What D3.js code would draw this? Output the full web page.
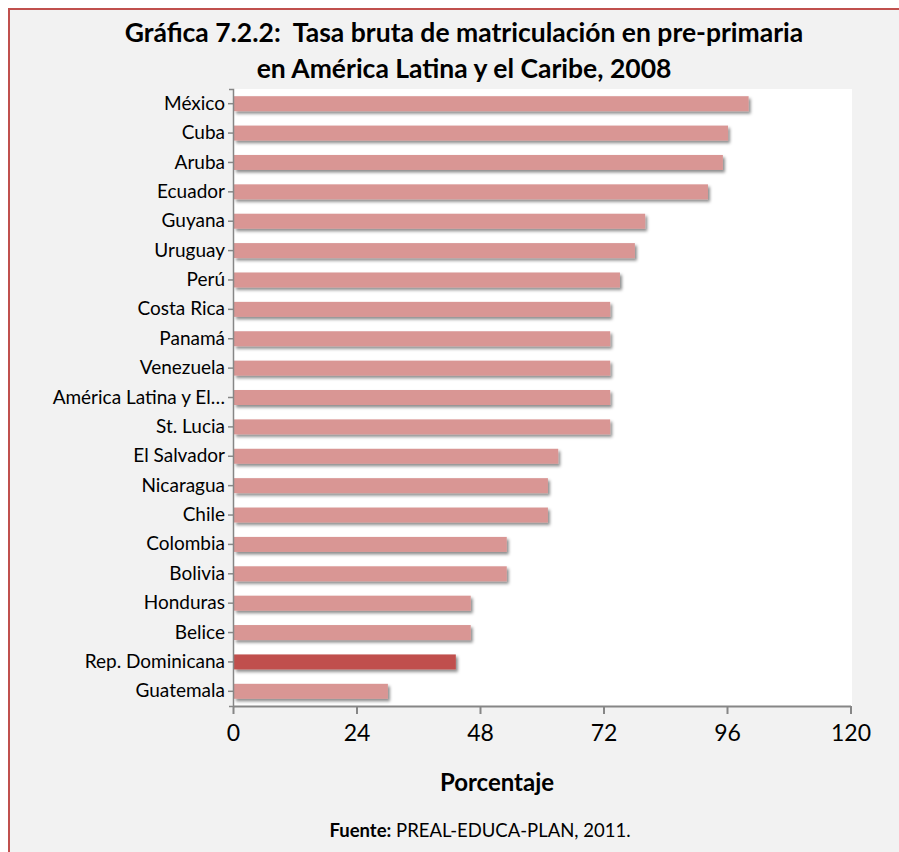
<!DOCTYPE html>
<html>
<head>
<meta charset="utf-8">
<script src="https://cdn.jsdelivr.net/npm/d3@7"></script>
<style>
  body { margin: 0; background: #fff; }
  text { font-family: Lato, "Open Sans", sans-serif; fill: #000; }
</style>
</head>
<body>
<div id="chart"></div>
<script>
// data
const paises = ["México", "Cuba", "Aruba", "Ecuador", "Guyana", "Uruguay", "Perú", "Costa Rica",
  "Panamá", "Venezuela", "América Latina y El…", "St. Lucia", "El Salvador", "Nicaragua", "Chile",
  "Colombia", "Bolivia", "Honduras", "Belice", "Rep. Dominicana", "Guatemala"];
const tasas = [100.2, 96.2, 95.2, 92.3, 80.1, 78.1, 75.2, 73.3, 73.3, 73.3, 73.3, 73.3,
  63.2, 61.2, 61.2, 53.2, 53.2, 46.2, 46.2, 43.3, 30.1];
const resaltado = "Rep. Dominicana";
const xTicks = [0, 24, 48, 72, 96, 120];

const W = 899, H = 852;
const svg = d3.select("#chart").append("svg")
    .attr("width", W)
    .attr("height", H);

// outer frame
svg.append("rect")
    .attr("x", 9).attr("y", 9)
    .attr("width", W + 20).attr("height", H + 20)
    .attr("fill", "#F2F2F2")
    .attr("stroke", "#C0504D")
    .attr("stroke-width", 2);

const defs = svg.append("defs");
const f = defs.append("filter").attr("id", "sombra")
    .attr("x", "-5%").attr("y", "-50%").attr("width", "115%").attr("height", "250%");
f.append("feDropShadow")
    .attr("dx", 2).attr("dy", 2.5).attr("stdDeviation", 1.6)
    .attr("flood-color", "#000").attr("flood-opacity", 0.45);

const plot = {left: 233, right: 852, top: 89, bottom: 706};

const x = d3.scaleLinear().domain([0, 120]).range([plot.left, plot.left + 617.5]);
const y = d3.scaleBand().domain(paises).range([plot.top, plot.bottom]).paddingInner(0.49).paddingOuter(0.245);

// plot area
svg.append("rect")
    .attr("x", plot.left).attr("y", plot.top)
    .attr("width", plot.right - plot.left).attr("height", plot.bottom - plot.top)
    .attr("fill", "#fff");

// title
svg.append("text")
    .attr("x", 464).attr("y", 42)
    .attr("text-anchor", "middle")
    .style("white-space", "pre")
    .style("font-size", "26.5px").style("font-weight", "bold")
    .text("Gráfica 7.2.2:  Tasa bruta de matriculación en pre-primaria");
svg.append("text")
    .attr("x", 464).attr("y", 78)
    .attr("text-anchor", "middle")
    .style("font-size", "26.5px").style("font-weight", "bold")
    .text("en América Latina y el Caribe, 2008");

// bars
svg.append("g").selectAll("rect")
    .data(paises)
    .join("rect")
      .attr("x", x(0) + 1)
      .attr("y", d => y(d))
      .attr("width", (d, i) => x(tasas[i]) - x(0) - 1)
      .attr("height", y.bandwidth())
      .attr("fill", d => d === resaltado ? "#C0504D" : "#D99694")
      .attr("filter", "url(#sombra)");

// y axis
const yAxis = svg.append("g")
    .attr("transform", `translate(${plot.left},0)`)
    .call(d3.axisLeft(y).tickSize(5).tickPadding(3).tickSizeOuter(4));
yAxis.select(".domain").attr("stroke", "#868686").attr("stroke-width", 1.5);
yAxis.selectAll(".tick line").attr("stroke", "#868686").attr("stroke-width", 1.5);
yAxis.selectAll(".tick text").style("font-size", "19px").style("font-family", "Lato, sans-serif");

// x axis
const xAxis = svg.append("g")
    .attr("transform", `translate(0,${plot.bottom})`)
    .call(d3.axisBottom(x).tickValues(xTicks).tickSize(8).tickSizeOuter(0).tickPadding(11));
xAxis.select(".domain").attr("stroke", "#868686").attr("stroke-width", 2);
xAxis.selectAll(".tick line").attr("stroke", "#868686").attr("stroke-width", 2);
xAxis.selectAll(".tick text").style("font-size", "23px").style("font-family", "Lato, sans-serif");

svg.append("text")
    .attr("x", 497).attr("y", 791)
    .attr("text-anchor", "middle")
    .style("font-size", "24px").style("font-weight", "bold")
    .text("Porcentaje");

const fuente = svg.append("text")
    .attr("x", 480).attr("y", 837)
    .attr("text-anchor", "middle")
    .style("font-size", "18.5px");
fuente.append("tspan").style("font-weight", "bold").text("Fuente:");
fuente.append("tspan").text(" PREAL-EDUCA-PLAN, 2011.");
</script>
</body>
</html>
